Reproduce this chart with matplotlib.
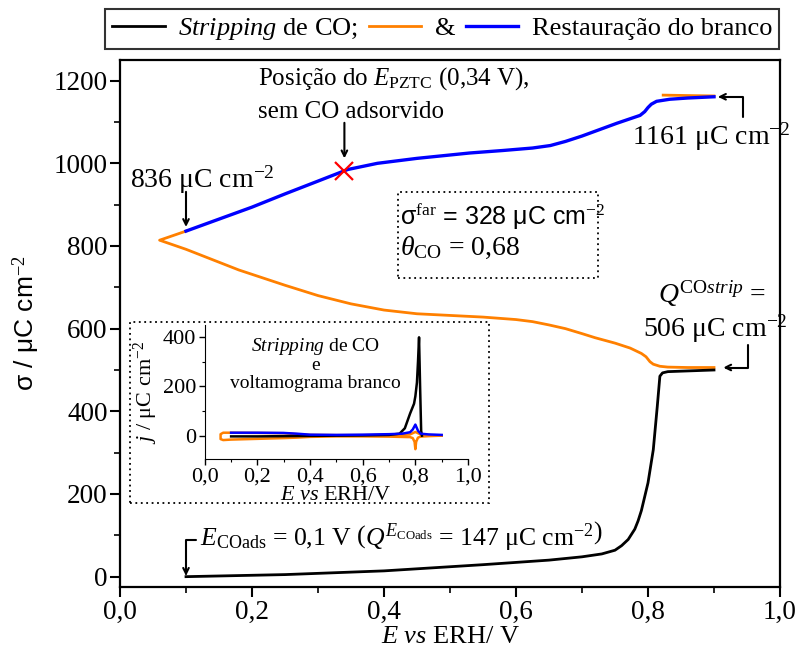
import numpy as np
import matplotlib
matplotlib.use('Agg')
import matplotlib.pyplot as plt
from matplotlib.patches import Rectangle
from matplotlib.ticker import MultipleLocator, FuncFormatter


plt.rcParams['font.family'] = 'Liberation Serif'
plt.rcParams['mathtext.fontset'] = 'custom'
plt.rcParams['mathtext.rm'] = 'Liberation Serif'
plt.rcParams['mathtext.it'] = 'Liberation Serif:italic'
plt.rcParams['mathtext.bf'] = 'Liberation Serif:bold'


############################################################
#            Dados: densidade de carga (sigma)             #
############################################################

# Stripping de CO (carga integrada, preto)
E_strip = [0.10, 0.25, 0.40, 0.55, 0.65, 0.70, 0.73, 0.75, 0.76, 0.77,
           0.78, 0.785, 0.79, 0.80, 0.808, 0.814, 0.818, 0.822, 0.83, 0.90]
q_strip = [0, 5, 14, 29, 40, 48, 55, 64, 75, 90,
           115, 135, 160, 227, 307, 411, 485, 493, 496, 500]

# Branco apos o stripping (varredura catodica, laranja)
E_lar = [0.90, 0.86, 0.83, 0.818, 0.808, 0.803, 0.797, 0.79, 0.773, 0.75,
         0.72, 0.70, 0.675, 0.65, 0.625, 0.60, 0.55, 0.50, 0.45, 0.40,
         0.35, 0.30, 0.25, 0.18, 0.10, 0.06, 0.10]
q_lar = [506, 506, 507, 509, 514, 520, 532, 540, 553, 565,
         578, 588, 600, 609, 617, 622, 628, 632, 636, 645,
         660, 680, 705, 742, 792, 814, 836]
E_lar_top = [0.823, 0.86, 0.90]
q_lar_top = [1165, 1164, 1163]

# Restauracao do branco (varredura anodica, azul)
E_azul = [0.10, 0.15, 0.20, 0.25, 0.30, 0.345, 0.39, 0.45, 0.53, 0.58,
          0.625, 0.652, 0.675, 0.70, 0.753, 0.788, 0.795, 0.80, 0.805, 0.813,
          0.833, 0.86, 0.90]
q_azul = [836, 865, 894, 926, 957, 985, 1000, 1012, 1025, 1031,
          1037, 1043, 1053, 1066, 1097, 1116, 1125, 1135, 1143, 1150,
          1155, 1158, 1161]

E_pztc = 0.34


############################################################
#            Dados: voltamogramas (inset)                  #
############################################################

E_cv_pr = [0.10, 0.20, 0.30, 0.40, 0.50, 0.60, 0.70, 0.74, 0.76, 0.78,
           0.795, 0.80, 0.806, 0.81, 0.814, 0.818, 0.822, 0.825]
j_cv_pr = [-3, -3, -2, -1, 0, 1, 3, 8, 30, 90,
           130, 160, 216, 300, 400, 200, 20, 0]

E_cv_lar = [0.90, 0.85, 0.82, 0.81, 0.803, 0.80, 0.797, 0.79, 0.78, 0.70,
            0.60, 0.50, 0.40, 0.35, 0.30, 0.20, 0.10, 0.07, 0.06, 0.06,
            0.07, 0.10, 0.20, 0.30, 0.35, 0.40, 0.50, 0.60, 0.70, 0.78,
            0.80, 0.82, 0.85, 0.90]
j_cv_lar = [0, -2, -4, -8, -25, -55, -25, -10, -6, -4,
            -3, -3, -5, -8, -10, -13, -16, -18, -14, 6,
            12, 12, 11, 10, 6, 3, 2, 2, 3, 5,
            15, 5, 2, 0]

E_cv_azul = [0.10, 0.20, 0.30, 0.35, 0.40, 0.50, 0.60, 0.70, 0.75, 0.78,
             0.79, 0.80, 0.81, 0.82, 0.85, 0.90]
j_cv_azul = [12, 12, 11, 8, 4, 3, 4, 6, 8, 14,
             25, 45, 20, 8, 5, 3]


cor_lar  = '#FF8000'
cor_azul = '#0000FF'

virgula = FuncFormatter(lambda v, p: '{:.1f}'.format(v).replace('.', ','))


############################################################
#            Grafico principal                             #
############################################################

fig = plt.figure(figsize=(8, 6.52), dpi=100)
ax = fig.add_axes([0.15, 0.0997, 0.825, 0.8083])

l_lar, = ax.plot(E_lar, q_lar, color=cor_lar, lw=2.0, zorder=2)
ax.plot(E_lar_top, q_lar_top, color=cor_lar, lw=2.0, zorder=2)
l_azul, = ax.plot(E_azul, q_azul, color=cor_azul, lw=2.4, zorder=3)
l_pr, = ax.plot(E_strip, q_strip, color='black', lw=2.0, zorder=3)

# posicao do E_PZTC sobre a curva azul
q_pztc = np.interp(E_pztc, E_azul, q_azul)
ax.plot(E_pztc, q_pztc, marker='x', color='red', ms=13, mew=1.6, zorder=4)

ax.set_xlim(0, 1.0)
ax.set_ylim(-25, 1250)
ax.xaxis.set_major_locator(MultipleLocator(0.2))
ax.xaxis.set_minor_locator(MultipleLocator(0.1))
ax.yaxis.set_major_locator(MultipleLocator(200))
ax.yaxis.set_minor_locator(MultipleLocator(100))
ax.xaxis.set_major_formatter(virgula)
ax.tick_params(which='major', direction='out', length=7, width=1.5, labelsize=19.5, pad=2)
ax.tick_params(which='minor', direction='out', length=4, width=1.2)
for s in ax.spines.values():
    s.set_linewidth(1.6)

ax.set_xlabel(r'$E\ vs$ ERH/ V', fontsize=19, labelpad=1)
ax.set_ylabel(r'σ / μC cm$^{-2}$', fontsize=19, family='Liberation Sans', labelpad=8)

seta = dict(arrowstyle='->', color='black', lw=1.5, shrinkA=0, shrinkB=0)

# carga inicial da restauracao
ax.text(0.015, 941, r'%d μC cm$^{-2}$' % q_azul[0], fontsize=20, va='baseline')
ax.annotate('', xy=(E_azul[0], 846), xytext=(E_azul[0], 931), arrowprops=seta)

# E_PZTC
ax.text(0.209, 1190, r'Posição do $E_{\rm PZTC}$ (0,34 V),', fontsize=18, va='baseline')
ax.text(0.209, 1110, 'sem CO adsorvido', fontsize=18, va='baseline')
ax.annotate('', xy=(E_pztc, 1012), xytext=(E_pztc, 1098), arrowprops=seta)

# carga final do branco
ax.text(0.776, 1045, r'%d μC cm$^{-2}$' % q_azul[-1], fontsize=20, va='baseline')
ax.annotate('', xy=(0.906, q_azul[-1]), xytext=(0.944, 1113),
            arrowprops=dict(seta, connectionstyle='angle,angleA=90,angleB=0,rad=0'))

# carga do stripping
ax.text(0.815, 663, r'$Q^{\rm CO\mathit{strip}}$ =', fontsize=20, va='baseline')
ax.text(0.792, 581, r'%d μC cm$^{-2}$' % q_lar[0], fontsize=20, va='baseline')
ax.annotate('', xy=(0.914, q_lar[0]), xytext=(0.952, 561),
            arrowprops=dict(seta, connectionstyle='angle,angleA=-90,angleB=0,rad=0'))

# potencial de adsorcao
ax.text(0.121, 77, r'$E_{\rm COads}$ = 0,1 V $\left(Q^{E_{\rm COads}}\right.$ = 147 μC cm$^{-2}\left.\right)$',
        fontsize=18.5, va='baseline')
ax.annotate('', xy=(E_strip[0], 2), xytext=(0.115, 89),
            arrowprops=dict(seta, connectionstyle='angle,angleA=180,angleB=90,rad=0'))

# caixa com sigma far e recobrimento
ax.add_patch(Rectangle((0.421, 723), 0.303, 208, fill=False, ls=(0, (1, 2)), lw=1.3, zorder=1))
ax.text(0.424, 852, r'σ$^{\rm far}$ = 328 μC cm$^{-2}$', fontsize=18,
        family='Liberation Sans', va='baseline')
ax.text(0.424, 779, r'$\theta_{\rm CO}$ = 0,68', fontsize=20, va='baseline')

# caixa do inset
ax.add_patch(Rectangle((0.015, 179), 0.544, 438, fill=False, ls=(0, (1, 2)), lw=1.3, zorder=1))


############################################################
#            Inset: voltamogramas                          #
############################################################

axi = fig.add_axes([0.256, 0.296, 0.329, 0.2055])
axi.patch.set_alpha(0)
axi.plot(E_cv_lar, j_cv_lar, color=cor_lar, lw=1.8)
axi.plot(E_cv_pr, j_cv_pr, color='black', lw=1.8)
axi.plot(E_cv_azul, j_cv_azul, color=cor_azul, lw=1.8)

axi.set_xlim(0, 1.0)
axi.set_ylim(-95, 450)
axi.spines['top'].set_visible(False)
axi.spines['right'].set_visible(False)
axi.xaxis.set_major_locator(MultipleLocator(0.2))
axi.xaxis.set_minor_locator(MultipleLocator(0.1))
axi.yaxis.set_major_locator(MultipleLocator(200))
axi.yaxis.set_minor_locator(MultipleLocator(100))
axi.xaxis.set_major_formatter(virgula)
axi.tick_params(which='major', direction='out', length=4, width=1, labelsize=16, pad=2)
axi.tick_params(which='minor', direction='out', length=2, width=0.8)

axi.set_xlabel(r'$E\ vs$ ERH/V', fontsize=16, labelpad=0)
axi.set_ylabel(r'$j$ / μC cm$^{-2}$', fontsize=16, labelpad=2)

axi.text(0.42, 362, r'$\it{Stripping}$ de CO', fontsize=14, ha='center', va='center')
axi.text(0.42, 284, 'e', fontsize=14, ha='center', va='center')
axi.text(0.42, 212, 'voltamograma branco', fontsize=14, ha='center', va='center')


############################################################
#            Legenda                                       #
############################################################

fig.legend([l_pr, l_lar, l_azul],
           [r'$\it{Stripping}$ de CO;', '&', 'Restauração do branco'],
           loc='center', bbox_to_anchor=(442/800, 1 - 29/652), ncol=3,
           fontsize=19, frameon=True, fancybox=False, edgecolor='black',
           handlelength=2.0, handletextpad=0.5, columnspacing=0.4,
           borderpad=0.25, borderaxespad=0)
fig.legends[0].get_frame().set_linewidth(1.5)

fig.savefig('out.png', dpi=100)
